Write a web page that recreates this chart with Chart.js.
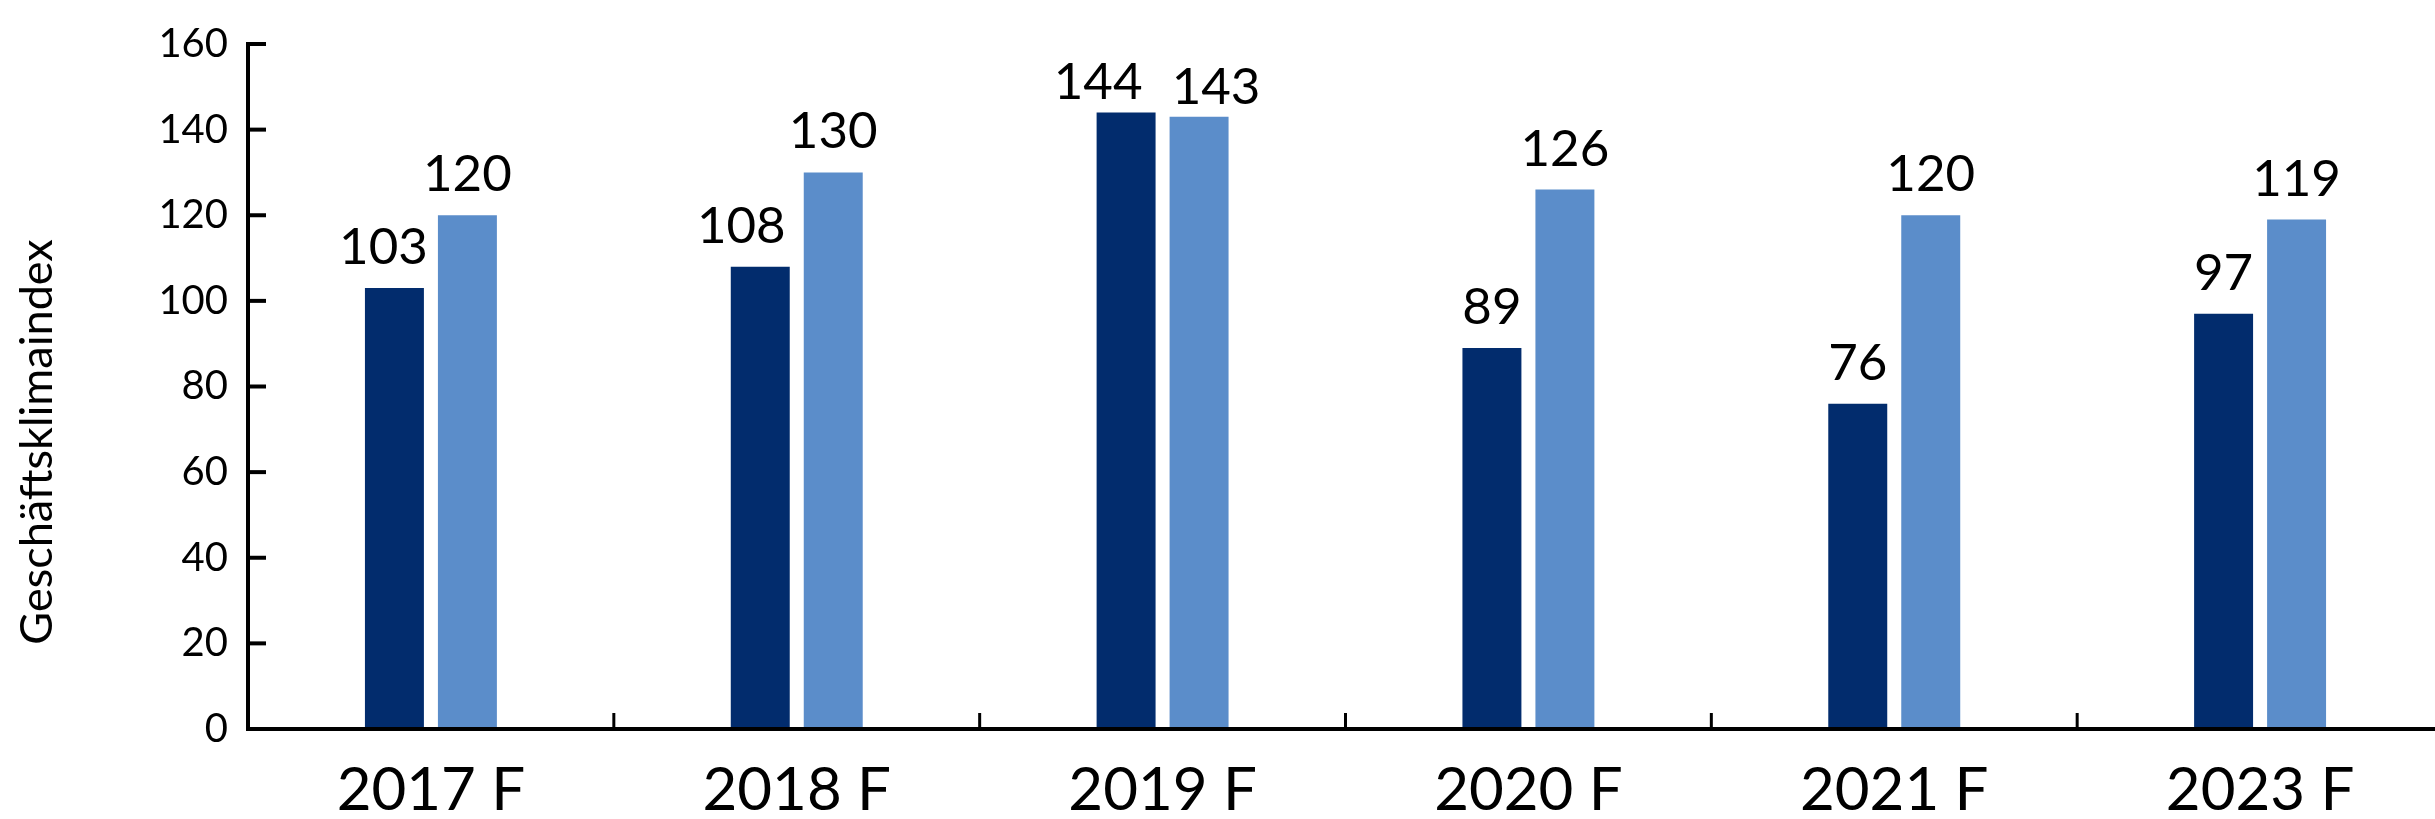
<!DOCTYPE html>
<html>
<head>
<meta charset="utf-8">
<script src="https://cdn.jsdelivr.net/npm/chart.js@4/dist/chart.umd.min.js"></script>
<style>
  html, body { margin: 0; padding: 0; background: #ffffff; overflow: hidden; }
  #wrap { width: 2443px; height: 819px; }
</style>
</head>
<body>
<div id="wrap"><canvas id="chart" width="2443" height="819"></canvas></div>
<script>
// Geschäftsklimaindex per year, two series
const categories = ['2017 F', '2018 F', '2019 F', '2020 F', '2021 F', '2023 F'];
const seriesA = [103, 108, 144, 89, 76, 97];
const seriesB = [120, 130, 143, 126, 120, 119];
const yTickValues = [0, 20, 40, 60, 80, 100, 120, 140, 160];
const axisTitle = 'Geschäftsklimaindex';

// styling
const FONT = 'Lato, "Open Sans", sans-serif';
const COLOR_A = '#022C6D';
const COLOR_B = '#5B8DCA';
// small hand nudges [dx, dy] for value labels that would otherwise collide
const nudgeA = [[-11, 0], [-19, 0], [-28, 10], [0, 0], [0, 0], [0, 0]];
const nudgeB = [[0, 0], [0, 0], [17, 11], [0, 0], [0, 0], [0, 0]];

const decor = {
  id: 'decor',
  afterDatasetsDraw(chart) {
    const { ctx, chartArea, scales: { x, y } } = chart;
    ctx.save();
    ctx.strokeStyle = '#000';
    ctx.lineCap = 'butt';

    // axis lines
    ctx.lineWidth = 4;
    ctx.beginPath();
    ctx.moveTo(chartArea.left, y.getPixelForValue(160) - 2);
    ctx.lineTo(chartArea.left, chartArea.bottom + 2);
    ctx.stroke();
    ctx.beginPath();
    ctx.moveTo(chartArea.left - 2, chartArea.bottom);
    ctx.lineTo(chart.width, chartArea.bottom);
    ctx.stroke();

    // y ticks, pointing into the plot
    ctx.lineWidth = 4;
    yTickValues.forEach(v => {
      if (v === 0) return;
      const py = y.getPixelForValue(v);
      ctx.beginPath();
      ctx.moveTo(chartArea.left, py);
      ctx.lineTo(chartArea.left + 18, py);
      ctx.stroke();
    });

    // x ticks between categories, pointing up
    ctx.lineWidth = 3;
    for (let i = 1; i < categories.length; i++) {
      const px = (x.getPixelForValue(i - 1) + x.getPixelForValue(i)) / 2;
      ctx.beginPath();
      ctx.moveTo(px, chartArea.bottom);
      ctx.lineTo(px, chartArea.bottom - 16);
      ctx.stroke();
    }

    // value labels above the bars
    ctx.fillStyle = '#000';
    ctx.font = '51px ' + FONT;
    ctx.textAlign = 'center';
    ctx.textBaseline = 'alphabetic';
    [nudgeA, nudgeB].forEach((nudge, di) => {
      const meta = chart.getDatasetMeta(di);
      const data = chart.data.datasets[di].data;
      meta.data.forEach((bar, i) => {
        const [dx, dy] = nudge[i];
        ctx.fillText(String(data[i]), bar.x + dx, bar.y - 24 + dy);
      });
    });

    // rotated y axis title
    ctx.save();
    ctx.translate(52, 442);
    ctx.rotate(-Math.PI / 2);
    ctx.font = '45px ' + FONT;
    ctx.textAlign = 'center';
    ctx.textBaseline = 'alphabetic';
    ctx.fillText(axisTitle, 0, 0);
    ctx.restore();

    ctx.restore();
  }
};

new Chart(document.getElementById('chart'), {
  type: 'bar',
  data: {
    labels: categories,
    datasets: [
      { label: 'A', data: seriesA, backgroundColor: COLOR_A, borderWidth: 0 },
      { label: 'B', data: seriesB, backgroundColor: COLOR_B, borderWidth: 0 }
    ]
  },
  options: {
    responsive: false,
    animation: false,
    events: [],
    categoryPercentage: 0.399,
    barPercentage: 0.808,
    layout: { padding: { top: 38, right: 0, bottom: 0, left: 0 } },
    plugins: {
      legend: { display: false },
      tooltip: { enabled: false },
      title: { display: false }
    },
    scales: {
      x: {
        grid: { display: false, drawTicks: false },
        border: { display: false },
        ticks: {
          color: '#000',
          font: { family: FONT, size: 60 },
          padding: 26,
          maxRotation: 0,
          autoSkip: false
        },
        afterFit(s) { s.height = 90; }
      },
      y: {
        min: 0,
        max: 160,
        afterBuildTicks(s) { s.ticks = yTickValues.map(v => ({ value: v })); },
        grid: { display: false, drawTicks: false },
        border: { display: false },
        ticks: {
          color: '#000',
          font: { family: FONT, size: 40 },
          padding: 20
        },
        afterFit(s) { s.width = 248; }
      }
    }
  },
  plugins: [decor]
});
</script>
</body>
</html>
